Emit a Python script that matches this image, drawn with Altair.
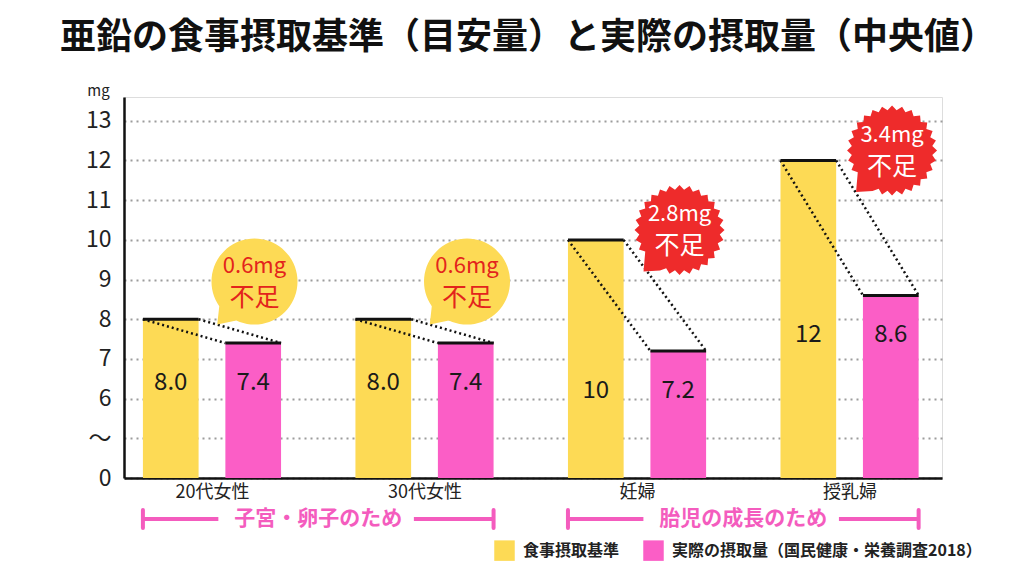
import json
import numpy as np
import pandas as pd
import altair as alt

# ---------------- data ----------------
categories = ["20代女性", "30代女性", "妊婦", "授乳婦"]
series = ["食事摂取基準", "実際の摂取量（国民健康・栄養調査2018）"]
need = [8.0, 8.0, 10.0, 12.0]      # 食事摂取基準（目安量）
actual = [7.4, 7.4, 7.2, 8.6]      # 実際の摂取量（中央値）
y_tick_values = [4, 5, 6, 7, 8, 9, 10, 11, 12, 13]   # 4 is shown as "0", 5 as "～" (broken axis)
bracket_names = ["子宮・卵子のため", "胎児の成長のため"]
bracket_from = [0, 2]
bracket_to = [1, 3]

TITLE = "亜鉛の食事摂取基準（目安量）と実際の摂取量（中央値）"
FONT = "Noto Sans CJK JP"
YELLOW = "#FDDA55"
PINK = "#FB5EC6"
RED = "#EE2B2B"
RED_TEXT = "#E3241C"
BRACKET = "#F45CBE"

long_rows = []
for i, c in enumerate(categories):
    long_rows.append({"cat": c, "idx": i, "s": series[0], "k": 0, "v": need[i]})
    long_rows.append({"cat": c, "idx": i, "s": series[1], "k": 1, "v": actual[i]})
long_df = pd.DataFrame(long_rows)
wide_df = pd.DataFrame({"cat": categories, "idx": list(range(len(categories))),
                        "need": need, "actual": actual})
br_df = pd.DataFrame({"name": bracket_names, "a": bracket_from, "b": bracket_to})

# ---------------- shapes ----------------
def bubble_path():
    pts = []
    for deg in range(0, 360, 5):
        if 118 < deg < 142:
            if deg == 120:
                t = np.deg2rad(131)
                pts.append((1.32 * np.cos(t), 1.32 * np.sin(t)))
            continue
        t = np.deg2rad(deg)
        pts.append((np.cos(t), np.sin(t)))
    return "M" + " L".join(f"{x:.3f},{y:.3f}" for x, y in pts) + " Z"

def star_path():
    pts = []
    n = 56
    for j in range(n):
        deg = j * 360.0 / n
        if 118 < deg < 142:
            if abs(deg - 128.57) < 0.1:
                t = np.deg2rad(131)
                pts.append((1.22 * np.cos(t), 1.22 * np.sin(t)))
            continue
        r = 1.0 if j % 2 == 0 else 0.9
        t = np.deg2rad(deg)
        pts.append((r * np.cos(t), r * np.sin(t)))
    return "M" + " L".join(f"{x:.3f},{y:.3f}" for x, y in pts) + " Z"

# ---------------- scales / axes ----------------
xscale = alt.Scale(domain=[-0.414, 3.435], nice=False, zero=False)
yscale = alt.Scale(domain=[4, 13.6], nice=False, zero=False)

cats_js = json.dumps(categories, ensure_ascii=False)
xaxis = alt.Axis(values=[0, 1, 2, 3], labelExpr=f"{cats_js}[datum.value]", title=None,
                 grid=False, ticks=False, domain=True, domainColor="#111", domainWidth=2.5,
                 labelFont=FONT, labelFontSize=18, labelColor="#222", labelPadding=5)
yaxis = alt.Axis(values=y_tick_values,
                 labelExpr="datum.value == 4 ? '0' : (datum.value == 5 ? '～' : datum.label)",
                 title="mg", titleAngle=0, titleX=-26, titleY=-7, titleAlign="center",
                 titleBaseline="middle", titleFont=FONT, titleFontSize=15,
                 titleFontWeight="normal", titleColor="#222",
                 grid=True, gridColor="#9c9c9c", gridDash=[2, 4], gridWidth=2,
                 ticks=False, domain=True, domainColor="#111", domainWidth=2.5,
                 labelFont=FONT, labelFontSize=23, labelColor="#222", labelPadding=13)

def X(f):
    return alt.X(f, type="quantitative", scale=xscale, axis=xaxis)

def Y(f):
    return alt.Y(f, type="quantitative", scale=yscale, axis=yaxis)

base_long = alt.Chart(long_df).transform_calculate(
    x0="datum.idx + (datum.k == 0 ? -0.325 : 0.063)",
    x1="datum.idx + (datum.k == 0 ? -0.063 : 0.325)",
    xc="datum.idx + (datum.k == 0 ? -0.194 : 0.194)",
    lbl="datum.v >= 10 ? format(datum.v, 'd') : format(datum.v, '.1f')",
)

bars = base_long.mark_bar().encode(
    x=X("x0"), x2="x1",
    y=Y("v"), y2=alt.datum(4),
    color=alt.Color("s:N", scale=alt.Scale(domain=series, range=[YELLOW, PINK]),
                    legend=alt.Legend(title=None, orient="none", legendX=370, legendY=443,
                                      direction="horizontal", symbolType="square",
                                      symbolSize=420, symbolStrokeWidth=0, symbolOpacity=1,
                                      labelFont=FONT, labelFontSize=16, labelFontWeight="bold",
                                      labelColor="#222", labelLimit=500, labelOffset=8,
                                      columnPadding=23, padding=0)),
)

tops = base_long.mark_rule(color="#111", strokeWidth=3).encode(
    x=X("x0"), x2="x1", y=Y("v"))

value_labels = base_long.transform_joinaggregate(
    lo="min(v)", groupby=["cat"]
).transform_calculate(ly="datum.lo - 1.0").mark_text(
    font=FONT, fontSize=24, color="#1a1a1a", baseline="middle", align="center"
).encode(x=X("xc"), y=Y("ly"), text="lbl:N")

base_wide = alt.Chart(wide_df).transform_calculate(
    xl0="datum.idx - 0.325", xl1="datum.idx + 0.063",
    xr0="datum.idx - 0.063", xr1="datum.idx + 0.325",
    short="datum.need - datum.actual",
).transform_calculate(
    bx="datum.idx + 0.2",
    by="datum.need + (datum.short < 1 ? 0.95 : 0.25)",
    t1="format(datum.short, '.1f') + 'mg'",
    t2="'不足'",
)

conn_left = base_wide.mark_rule(color="#111", strokeWidth=2.5, strokeDash=[2, 3]).encode(
    x=X("xl0"), x2="xl1", y=Y("need"), y2="actual")
conn_right = base_wide.mark_rule(color="#111", strokeWidth=2.5, strokeDash=[2, 3]).encode(
    x=X("xr0"), x2="xr1", y=Y("need"), y2="actual")

circ = base_wide.transform_filter("datum.short < 1")
star = base_wide.transform_filter("datum.short >= 1")

circ_shape = circ.mark_point(shape=bubble_path(), filled=True, fill=YELLOW, opacity=1,
                             strokeWidth=0, size=7400).encode(x=X("bx"), y=Y("by"))
circ_t1 = circ.mark_text(font=FONT, fontSize=22, color=RED_TEXT, dy=-16).encode(
    x=X("bx"), y=Y("by"), text="t1:N")
circ_t2 = circ.mark_text(font=FONT, fontSize=25, color=RED_TEXT, dy=16).encode(
    x=X("bx"), y=Y("by"), text="t2:N")

star_shape = star.mark_point(shape=star_path(), filled=True, fill=RED, opacity=1,
                             strokeWidth=0, size=8100).encode(x=X("bx"), y=Y("by"))
star_t1 = star.mark_text(font=FONT, fontSize=22, color="white", dy=-16).encode(
    x=X("bx"), y=Y("by"), text="t1:N")
star_t2 = star.mark_text(font=FONT, fontSize=25, color="white", dy=16).encode(
    x=X("bx"), y=Y("by"), text="t2:N")

base_br = alt.Chart(br_df).transform_calculate(
    xs="datum.a - 0.325", xe="datum.b + 0.325"
).transform_calculate(
    xm="(datum.xs + datum.xe) / 2"
).transform_calculate(
    xm0="datum.xm - 0.47", xm1="datum.xm + 0.45"
)
br_left = base_br.mark_rule(color=BRACKET, strokeWidth=4).encode(
    x=X("xs"), x2="xm0", y=alt.value(422))
br_right = base_br.mark_rule(color=BRACKET, strokeWidth=4).encode(
    x=X("xm1"), x2="xe", y=alt.value(422))
br_cap_l = base_br.mark_rule(color=BRACKET, strokeWidth=4, strokeCap="round").encode(
    x=X("xs"), y=alt.value(413), y2=alt.value(431))
br_cap_r = base_br.mark_rule(color=BRACKET, strokeWidth=4, strokeCap="round").encode(
    x=X("xe"), y=alt.value(413), y2=alt.value(431))
br_text = base_br.mark_text(font=FONT, fontSize=21, fontWeight="bold", color=BRACKET,
                            baseline="middle").encode(x=X("xm"), y=alt.value(422), text="name:N")

chart = alt.layer(
    bars, conn_left, conn_right, tops, value_labels,
    circ_shape, circ_t1, circ_t2, star_shape, star_t1, star_t2,
    br_left, br_right, br_cap_l, br_cap_r, br_text,
).properties(
    width=818, height=381,
    autosize=alt.AutoSizeParams(type="none"),
    padding={"left": 124, "top": 97, "right": 82, "bottom": 98},
    title=alt.TitleParams(text=TITLE, font=FONT, fontSize=36, fontWeight="bold",
                          color="#111", anchor="middle", offset=26, dx=-5),
).configure_view(stroke=None).configure(background="white")

chart.save("out.html", embed_options={"renderer": "svg", "actions": False})
